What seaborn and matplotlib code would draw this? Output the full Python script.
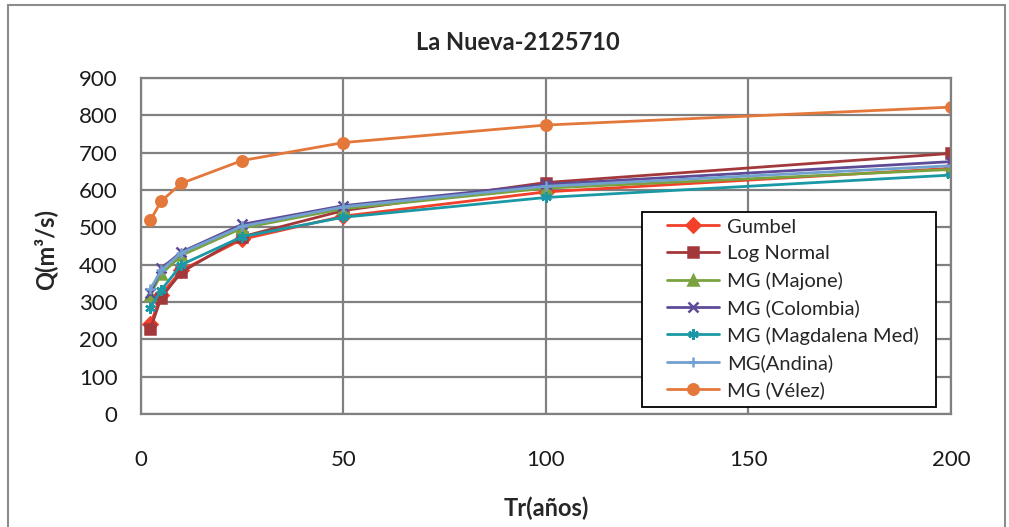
import matplotlib
matplotlib.use("Agg")
import matplotlib.pyplot as plt
import seaborn as sns
import pandas as pd
from matplotlib.patches import Rectangle

sns.set_theme(style="white")
plt.rcParams['font.family'] = ['Lato', 'DejaVu Sans']

tr = [2.33, 5, 10, 25, 50, 100, 200]
gumbel = [240, 320, 385, 468, 530, 595, 658]
log_normal = [228, 312, 380, 475, 545, 620, 698]
mg_majone = [320, 375, 425, 498, 550, 605, 655]
mg_colombia = [323, 390, 434, 508, 558, 615, 676]
mg_magdalena = [285, 332, 400, 475, 527, 580, 640]
mg_andina = [335, 385, 432, 503, 555, 610, 665]
mg_velez = [519, 570, 618, 679, 727, 774, 822]

series_names = ["Gumbel", "Log Normal", "MG (Majone)", "MG (Colombia)",
                "MG (Magdalena Med)", "MG(Andina)", "MG (Vélez)"]
series_values = [gumbel, log_normal, mg_majone, mg_colombia,
                 mg_magdalena, mg_andina, mg_velez]
colors = ["#F2402A", "#A3383B", "#7AA23F", "#5D4B97", "#1B98A5", "#72A0CF", "#E4773A"]
markers = ["D", "s", "^", "x", (6, 2, 0), "+", "o"]
msizes = [6.5, 6.5, 7, 10, 10, 11, 6.5]
lwidths = [2.2, 2.2, 2.2, 2.2, 2.2, 4.0, 2.2]

fig = plt.figure(figsize=(10.09, 5.27), dpi=100)
ax = fig.add_axes([0.1397, 0.2144, 0.8028, 0.6376])

for name, vals, c, m, ms, lw in zip(series_names, series_values, colors, markers, msizes, lwidths):
    df = pd.DataFrame({"Tr": tr, "Q": vals})
    sns.lineplot(data=df, x="Tr", y="Q", ax=ax, color=c, marker=m, markersize=ms,
                 linewidth=lw, markeredgecolor=c, markeredgewidth=1.8,
                 label=name, sort=False)

ax.set_xlim(0, 200)
ax.set_ylim(0, 900)
ax.set_xticks([0, 50, 100, 150, 200])
ax.set_yticks(range(0, 901, 100))
ax.grid(True, color="#808080", linewidth=1.6)
ax.set_axisbelow(True)
for s in ax.spines.values():
    s.set_color("#808080")
    s.set_linewidth(1.6)
ax.tick_params(axis="both", labelsize=16, colors="#1A1A1A", length=0)
ax.tick_params(axis="y", pad=17)
ax.tick_params(axis="x", pad=26)

ax.set_xlabel("Tr(años)", fontsize=17, fontweight="bold")
ax.xaxis.label.set_va("center")
ax.xaxis.set_label_coords(0.5, (414 - 508) / 336)
ax.set_ylabel("Q(m³/s)", fontsize=17, fontweight="bold")
ax.yaxis.label.set_va("center")
ax.yaxis.set_label_coords((45 - 141) / 810, 0.49)
fig.text(0.5132, 1 - 42 / 527, "La Nueva-2125710", fontsize=17, fontweight="bold",
         ha="center", va="center")

# legend frame
ax.add_patch(Rectangle((0.618, 0.022), 0.364, 0.58, transform=ax.transAxes,
                       facecolor="white", edgecolor="black", linewidth=1.3, zorder=10))
handles, labels = ax.get_legend_handles_labels()
for h in handles:
    h.set_linewidth(2)
    h.set_markersize(7.5)
leg = ax.legend(handles, labels, loc="upper left", bbox_to_anchor=(0.649, 0.582),
                fontsize=14.5, frameon=False, borderaxespad=0, borderpad=0,
                handlelength=2.6, handletextpad=0.4, labelspacing=0.47)
leg.set_zorder(11)

fig.patches.append(Rectangle((8 / 1009, -0.05), 997 / 1009, 1.05 - 5 / 527,
                             transform=fig.transFigure, fill=False,
                             edgecolor="#8C8C8C", linewidth=1.5))

fig.savefig("out.png", dpi=100)
